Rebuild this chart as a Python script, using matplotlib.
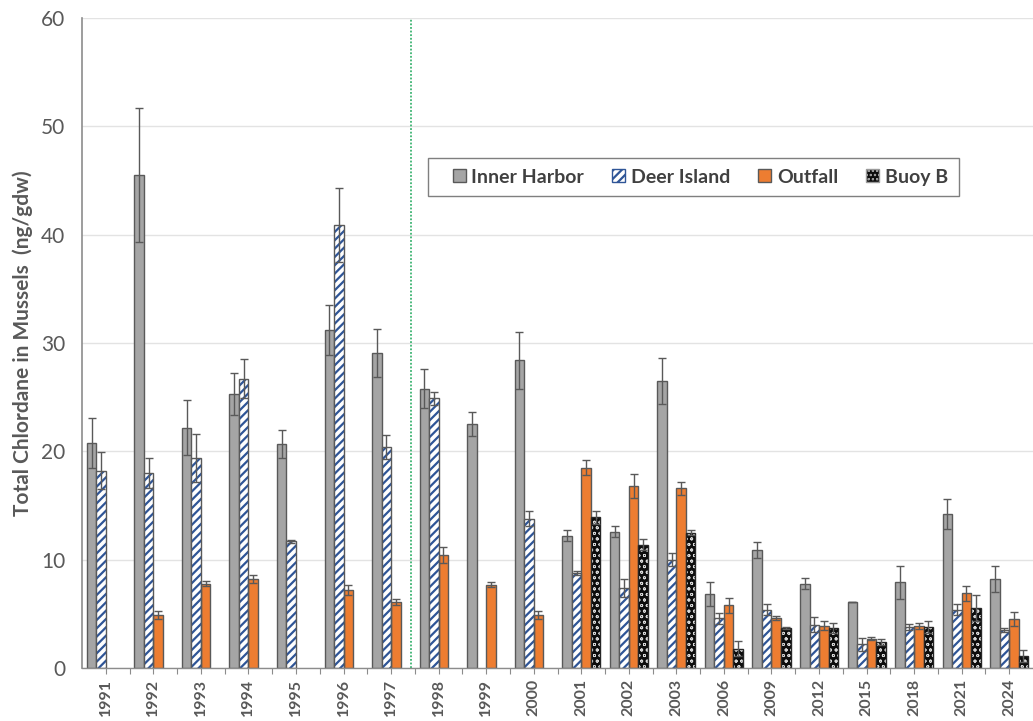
import matplotlib
matplotlib.use("Agg")
import matplotlib.pyplot as plt
from matplotlib.patches import Patch, Rectangle
import numpy as np

years = ["1991", "1992", "1993", "1994", "1995", "1996", "1997", "1998", "1999",
         "2000", "2001", "2002", "2003", "2006", "2009", "2012", "2015", "2018",
         "2021", "2024"]

inner_harbor = [20.8, 45.5, 22.2, 25.3, 20.7, 31.2, 29.1, 25.8, 22.5, 28.4,
                12.2, 12.6, 26.5, 6.8, 10.9, 7.8, 6.1, 7.9, 14.2, 8.2]
inner_harbor_err = [2.3, 6.2, 2.5, 1.9, 1.3, 2.3, 2.2, 1.8, 1.1, 2.6,
                    0.5, 0.5, 2.1, 1.1, 0.7, 0.5, 0.0, 1.5, 1.4, 1.2]

deer_island = [18.2, 18.0, 19.4, 26.7, 11.7, 40.9, 20.4, 24.9, np.nan, 13.8,
               8.8, 7.4, 10.0, 4.6, 5.4, 4.0, 2.2, 3.8, 5.4, 3.5]
deer_island_err = [1.7, 1.4, 2.2, 1.8, 0.15, 3.4, 1.1, 0.6, np.nan, 0.7,
                   0.2, 0.8, 0.6, 0.5, 0.5, 0.7, 0.6, 0.25, 0.5, 0.2]

outfall = [np.nan, 4.9, 7.8, 8.2, np.nan, 7.2, 6.1, 10.4, 7.7, 4.9,
           18.5, 16.8, 16.6, 5.8, 4.6, 3.9, 2.7, 3.9, 6.9, 4.5]
outfall_err = [np.nan, 0.4, 0.25, 0.35, np.nan, 0.5, 0.25, 0.75, 0.25, 0.4,
               0.7, 1.1, 0.6, 0.7, 0.2, 0.4, 0.15, 0.3, 0.7, 0.65]

buoy_b = [np.nan, np.nan, np.nan, np.nan, np.nan, np.nan, np.nan, np.nan, np.nan, np.nan,
          13.9, 11.4, 12.5, 1.8, 3.7, 3.7, 2.4, 3.8, 5.5, 1.1]
buoy_b_err = [np.nan, np.nan, np.nan, np.nan, np.nan, np.nan, np.nan, np.nan, np.nan, np.nan,
              0.6, 0.5, 0.2, 0.7, 0.1, 0.45, 0.25, 0.55, 1.2, 0.55]

series_names = ["Inner Harbor", "Deer Island", "Outfall", "Buoy B"]

plt.rcParams["font.family"] = ["Lato", "DejaVu Sans"]
plt.rcParams["hatch.linewidth"] = 1.6

fig = plt.figure(figsize=(10.33, 7.21), dpi=100)
ax = fig.add_axes([0.0794, 0.0735, 0.9206, 0.9015])

x = np.arange(len(years))
width = 0.2
edge = "#595959"
text_color = "#595959"
buoy_dots = "#D8D8D8"


def thin_hatch(patches, lw=0.6):
    for p in patches:
        try:
            p.set_hatch_linewidth(lw)
        except AttributeError:
            pass


# bar series
ax.bar(x - 0.3, inner_harbor, width, color="#A5A5A5", edgecolor=edge, linewidth=1.0, zorder=2)

ax.bar(x - 0.1, deer_island, width, color="white", edgecolor="#2F5597", hatch="////",
       linewidth=0, zorder=2)
ax.bar(x - 0.1, deer_island, width, fill=False, edgecolor=edge, linewidth=1.0, zorder=2.1)

ax.bar(x + 0.1, outfall, width, color="#ED7D31", edgecolor=edge, linewidth=1.0, zorder=2)

# dotted texture for the offshore reference station
buoy_fill = ax.bar(x + 0.3, buoy_b, width, color="#0D0D0D", edgecolor=buoy_dots, hatch="ooo",
                   linewidth=0, zorder=2)
thin_hatch(buoy_fill)
ax.bar(x + 0.3, buoy_b, width, fill=False, edgecolor="#262626", linewidth=1.0, zorder=2.1)

# error bars
for off, vals, errs in [(-0.3, inner_harbor, inner_harbor_err),
                        (-0.1, deer_island, deer_island_err),
                        (0.1, outfall, outfall_err),
                        (0.3, buoy_b, buoy_b_err)]:
    ax.errorbar(x + off, vals, yerr=errs, fmt="none", ecolor="#595959",
                elinewidth=1.0, capsize=3, capthick=1.0, zorder=3)

# separator between the early and later survey years
ax.axvline(6.42, ymin=0, ymax=1, color="#3CB371", linestyle=(0, (1, 1)),
           linewidth=1.3, zorder=1.5)

ax.set_xlim(-0.5, len(years) - 0.5)
ax.set_ylim(0, 60)
ax.set_yticks(np.arange(0, 61, 10))
ax.yaxis.grid(True, color="#E3E3E3", linewidth=1.0, zorder=0)
ax.set_axisbelow(True)

ax.set_xticks(x)
ax.set_xticklabels(years, rotation=90, fontsize=11.5, fontweight="bold", color=text_color)
ax.set_xticks(x[:-1] + 0.5, minor=True)
ax.tick_params(axis="x", which="both", length=4, width=0.8, color="#8C8C8C", pad=4)
ax.tick_params(axis="y", length=0, labelsize=15, labelcolor=text_color, pad=12)

for side in ("top", "right"):
    ax.spines[side].set_visible(False)
ax.spines["left"].set_color("#8C8C8C")
ax.spines["left"].set_linewidth(1.2)
ax.spines["bottom"].set_color("#8C8C8C")
ax.spines["bottom"].set_linewidth(1.0)

ax.set_ylabel("Total Chlordane in Mussels  (ng/gdw)", fontsize=15, fontweight="bold",
              color=text_color, labelpad=6)

# legend box
ax.add_patch(Rectangle((0.3638, 0.7262), 0.5584, 0.0584, transform=ax.transAxes,
                       facecolor="white", edgecolor="#7F7F7F", linewidth=1.0, zorder=4))

handles = [
    Patch(facecolor="#A5A5A5", edgecolor=edge, linewidth=1.0),
    Patch(facecolor="white", edgecolor="#2F5597", hatch="////", linewidth=1.0),
    Patch(facecolor="#ED7D31", edgecolor=edge, linewidth=1.0),
    Patch(facecolor="#0D0D0D", edgecolor=buoy_dots, hatch="oooo", linewidth=1.0),
]
leg = ax.legend(handles, series_names, ncol=4, loc="center left",
                bbox_to_anchor=(0.390, 0.7554), frameon=False,
                handlelength=0.67, handleheight=0.67,
                handletextpad=0.28, columnspacing=1.45, borderpad=0, borderaxespad=0,
                prop={"weight": "bold", "size": 14})
leg.set_zorder(5)
thin_hatch([leg.legend_handles[3]], 0.5)
leg.legend_handles[3].set_edgecolor("#9A9A9A")
for t in leg.get_texts():
    t.set_color("#404040")

fig.savefig("out.png", dpi=100)
